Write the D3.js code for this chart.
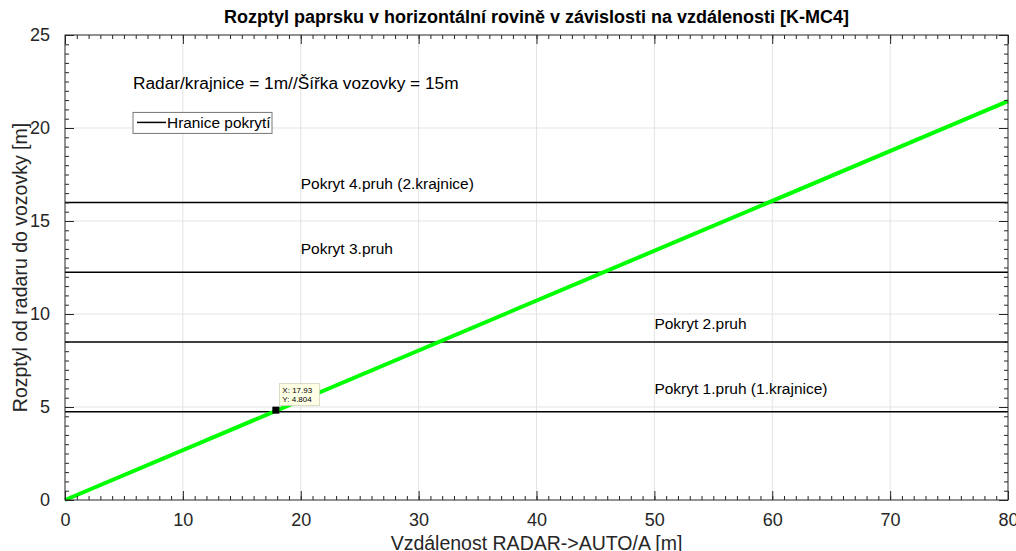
<!DOCTYPE html>
<html>
<head>
<meta charset="utf-8">
<script src="https://cdn.jsdelivr.net/npm/d3@7"></script>
<style>
  body { margin: 0; background: #fff; }
  svg { display: block; font-family: "Liberation Sans", Arial, Helvetica, sans-serif; }
</style>
</head>
<body>
<div id="chart"></div>
<script>
// chart data
const xTicks = [0, 10, 20, 30, 40, 50, 60, 70, 80];
const yTicks = [0, 5, 10, 15, 20, 25];
const beamX = [0, 80];
const beamY = [0, 21.44];
const laneLimits = [4.75, 8.5, 12.25, 16];
const laneLabels = ['Pokryt 1.pruh (1.krajnice)', 'Pokryt 2.pruh', 'Pokryt 3.pruh', 'Pokryt 4.pruh (2.krajnice)'];
const laneLabelX = [50, 50, 20, 20];
const laneLabelY = [6, 9.5, 13.5, 17];
const tipX = 17.93;
const tipY = 4.804;

const W = 1016, H = 551;
const margin = { top: 35, right: 8, bottom: 51, left: 65 };
const width = W - margin.left - margin.right;
const height = H - margin.top - margin.bottom;
const axisColor = '#262626';

const svg = d3.select('#chart').append('svg')
  .attr('width', W)
  .attr('height', H);

const g = svg.append('g')
  .attr('transform', `translate(${margin.left},${margin.top})`);

const x = d3.scaleLinear().domain([0, 80]).range([0, width]);
const y = d3.scaleLinear().domain([0, 25]).range([height, 0]);

// grid
g.append('g').selectAll('line').data(xTicks.slice(1, -1)).enter().append('line')
  .attr('x1', d => x(d)).attr('x2', d => x(d))
  .attr('y1', 0).attr('y2', height)
  .attr('stroke', '#e3e3e3').attr('stroke-width', 1);
g.append('g').selectAll('line').data(yTicks.slice(1, -1)).enter().append('line')
  .attr('y1', d => y(d)).attr('y2', d => y(d))
  .attr('x1', 0).attr('x2', width)
  .attr('stroke', '#e3e3e3').attr('stroke-width', 1);

// lane limits (black)
g.append('g').selectAll('line').data(laneLimits).enter().append('line')
  .attr('x1', 0).attr('x2', width)
  .attr('y1', d => y(d)).attr('y2', d => y(d))
  .attr('stroke', '#000').attr('stroke-width', 1.5);

// beam (green)
const line = d3.line().x(d => x(d[0])).y(d => y(d[1]));
g.append('path')
  .datum(d3.zip(beamX, beamY))
  .attr('d', line)
  .attr('fill', 'none')
  .attr('stroke', '#00ff00')
  .attr('stroke-width', 4);

// lane labels
g.append('g').selectAll('text').data(laneLabels).enter().append('text')
  .attr('x', (d, i) => x(laneLabelX[i]))
  .attr('y', (d, i) => y(laneLabelY[i]))
  .attr('dy', '0.35em')
  .attr('font-size', 15.5)
  .attr('fill', '#000')
  .text(d => d);

// annotation
g.append('text')
  .attr('x', x(5.77)).attr('y', y(22.4)).attr('dy', '0.35em')
  .attr('font-size', 17.3).attr('fill', '#000')
  .text('Radar/krajnice = 1m//Šířka vozovky = 15m');

// legend
const leg = g.append('g').attr('transform', `translate(${x(5.77)},${y(20.3)})`);
leg.append('rect').attr('x', 0).attr('y', -10).attr('width', 139).attr('height', 21)
  .attr('fill', '#fff').attr('stroke', '#777').attr('stroke-width', 1);
leg.append('line').attr('x1', 4).attr('x2', 33).attr('y1', 0).attr('y2', 0)
  .attr('stroke', '#000').attr('stroke-width', 1.5);
leg.append('text').attr('x', 34).attr('y', 0).attr('dy', '0.35em')
  .attr('font-size', 15.4).attr('fill', '#000').text('Hranice pokrytí');

// data tip
const tip = g.append('g');
tip.append('rect')
  .attr('x', x(tipX) - 4).attr('y', y(tipY) - 4).attr('width', 7).attr('height', 7)
  .attr('fill', '#000');
tip.append('rect')
  .attr('x', x(tipX) + 3).attr('y', y(tipY) - 27).attr('width', 40).attr('height', 22)
  .attr('fill', '#ffffe6').attr('stroke', '#cfcfb8').attr('stroke-width', 0.8);
tip.append('text').attr('x', x(tipX) + 6).attr('y', y(tipY) - 18)
  .attr('font-size', 8).attr('fill', '#000').text('X: ' + tipX);
tip.append('text').attr('x', x(tipX) + 6).attr('y', y(tipY) - 9)
  .attr('font-size', 8).attr('fill', '#000').text('Y: ' + tipY);

// axes: ticks pointing inward on all four sides
function styleAxis(sel) {
  sel.select('.domain').remove();
  sel.selectAll('line').attr('stroke', axisColor);
  sel.selectAll('text').attr('fill', axisColor).attr('font-size', 18)
    .attr('font-family', '"Liberation Sans", Arial, sans-serif');
}
const xMinor = d3.range(0, 81, 1);
const yMinor = d3.range(0, 25.01, 0.5);

g.append('g').attr('transform', `translate(0,${height})`)
  .call(d3.axisBottom(x).tickValues(xMinor).tickSize(-4).tickFormat(''))
  .call(styleAxis);
g.append('g').attr('transform', `translate(0,${height})`)
  .call(d3.axisBottom(x).tickValues(xTicks).tickSize(-9).tickPadding(13).tickFormat(d3.format('d')))
  .call(styleAxis);
g.append('g')
  .call(d3.axisTop(x).tickValues(xMinor).tickSize(-4).tickFormat(''))
  .call(styleAxis);
g.append('g')
  .call(d3.axisTop(x).tickValues(xTicks).tickSize(-9).tickFormat(''))
  .call(styleAxis);
g.append('g')
  .call(d3.axisLeft(y).tickValues(yMinor).tickSize(-4).tickFormat(''))
  .call(styleAxis);
g.append('g')
  .call(d3.axisLeft(y).tickValues(yTicks).tickSize(-9).tickPadding(15).tickFormat(d3.format('d')))
  .call(styleAxis);
g.append('g').attr('transform', `translate(${width},0)`)
  .call(d3.axisRight(y).tickValues(yMinor).tickSize(-4).tickFormat(''))
  .call(styleAxis);
g.append('g').attr('transform', `translate(${width},0)`)
  .call(d3.axisRight(y).tickValues(yTicks).tickSize(-9).tickFormat(''))
  .call(styleAxis);

// box
g.append('rect').attr('x', 0).attr('y', 0).attr('width', width).attr('height', height)
  .attr('fill', 'none').attr('stroke', axisColor).attr('stroke-width', 1);

// title and labels
svg.append('text')
  .attr('x', margin.left + width / 2).attr('y', 23)
  .attr('text-anchor', 'middle').attr('font-size', 18).attr('font-weight', 'bold')
  .attr('fill', '#000')
  .text('Rozptyl paprsku v horizontální rovině v závislosti na vzdálenosti [K-MC4]');
svg.append('text')
  .attr('x', margin.left + width / 2).attr('y', 550)
  .attr('text-anchor', 'middle').attr('font-size', 19.5).attr('fill', axisColor)
  .text('Vzdálenost RADAR->AUTO/A [m]');
svg.append('text')
  .attr('transform', `translate(27,${margin.top + height / 2}) rotate(-90)`)
  .attr('text-anchor', 'middle').attr('font-size', 19.5).attr('fill', axisColor)
  .text('Rozptyl od radaru do vozovky [m]');
</script>
</body>
</html>
